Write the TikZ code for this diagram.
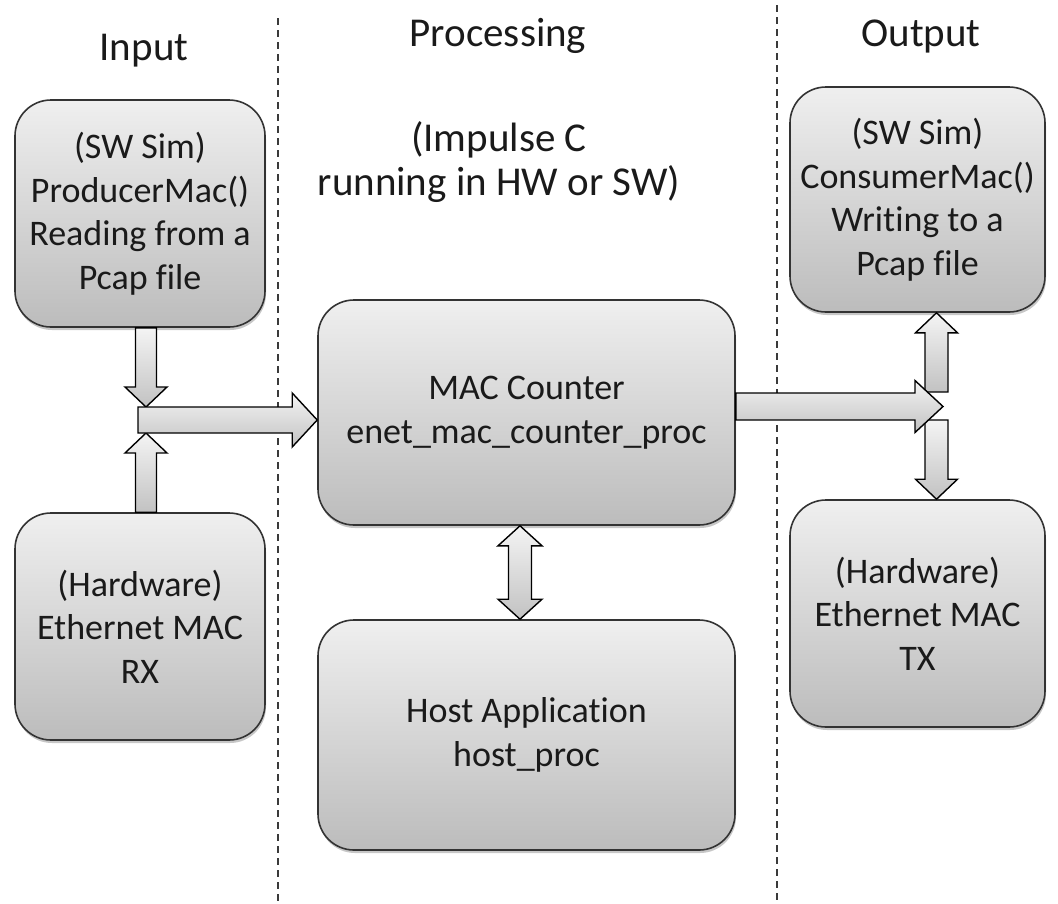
\documentclass[tikz,border=0pt]{standalone}
\usepackage{fontspec}
\setmainfont{Carlito}[Ligatures={NoCommon}]
\usetikzlibrary{calc,shadows}

\definecolor{boxtop}{HTML}{EFEFEF}
\definecolor{boxbot}{HTML}{BCBCBC}
\definecolor{arrtop}{HTML}{F4F4F4}
\definecolor{arrbot}{HTML}{C2C2C2}
\definecolor{edge}{HTML}{333333}
\definecolor{ink}{HTML}{1A1A1A}
\definecolor{divcol}{HTML}{3A3A3A}

% Block arrow from #1 to #2: shaft half-width #3, head half-width #4, head length #5
\newcommand\blockarrow[5]{%
  \coordinate (ba-h) at ($#2!#5!#1$);
  \path[arrowbody]
    ($#1!#3!90:#2$) -- ($(ba-h)!#3!-90:#1$) -- ($(ba-h)!#4!-90:#1$) -- #2
    -- ($(ba-h)!#4!90:#1$) -- ($(ba-h)!#3!90:#1$) -- ($#1!#3!-90:#2$) -- cycle;
}
% Two-headed block arrow between #1 and #2
\newcommand\dblockarrow[5]{%
  \coordinate (da-a) at ($#1!#5!#2$);
  \coordinate (da-b) at ($#2!#5!#1$);
  \path[arrowbody]
    #1 -- ($(da-a)!#4!90:#2$) -- ($(da-a)!#3!90:#2$) -- ($(da-b)!#3!-90:#1$)
    -- ($(da-b)!#4!-90:#1$) -- #2 -- ($(da-b)!#4!90:#1$) -- ($(da-b)!#3!90:#1$)
    -- ($(da-a)!#3!-90:#2$) -- ($(da-a)!#4!-90:#2$) -- cycle;
}

\begin{document}
\begin{tikzpicture}[x=1pt,y=-1pt,
  box/.style={draw=edge, line width=1.6pt, rounded corners=36pt,
    top color=boxtop, bottom color=boxbot, align=center, text=ink,
    font=\fontsize{36}{43.5}\selectfont, inner sep=0pt,
    drop shadow={shadow xshift=1pt, shadow yshift=-3pt, opacity=0.22, fill=black}},
  heading/.style={text=ink, font=\fontsize{41}{48}\selectfont, inner sep=0pt, anchor=base},
  note/.style={text=ink, font=\fontsize{41}{44}\selectfont, align=center, inner sep=0pt},
  arrowbody/.style={draw=black, line width=1.4pt, line join=miter,
    top color=arrtop, bottom color=arrbot},
  divider/.style={draw=divcol, line width=2pt, dash pattern=on 7pt off 5pt}]

\useasboundingbox (0,0) rectangle (1058,903);

% column dividers
\coordinate (d1a) at (278,18);
\coordinate (d1b) at (278,903);
\coordinate (d2a) at (777,5);
\coordinate (d2b) at (777,903);
\path[divider] (d1a) -- (d1b);
\path[divider] (d2a) -- (d2b);

% column headings
\node[heading] (hin)  at (144,60) {Input};
\node[heading] (hpro) at (498,46) {Processing};
\node[heading] (hout) at (921,46) {Output};
\node[note] (impl) at (499,162) {(Impulse C\\running in HW or SW)};

% blocks
\node[box, minimum width=250pt, minimum height=227pt] (prod) at (140,213.5)
  {(SW Sim)\\ProducerMac()\\Reading from a\\Pcap file};
\node[box, minimum width=250pt, minimum height=227pt] (rx) at (140,626.5)
  {(Hardware)\\Ethernet MAC\\RX};
\node[box, minimum width=417pt, minimum height=225pt] (mac) at (526.5,412.5)
  {MAC Counter\\enet\_mac\_counter\_proc};
\node[box, minimum width=417pt, minimum height=230pt] (host) at (526.5,735)
  {Host Application\\host\_proc};
\node[box, minimum width=255pt, minimum height=225pt] (cons) at (917.5,199.5)
  {(SW Sim)\\ConsumerMac()\\Writing to a\\Pcap file};
\node[box, minimum width=255pt, minimum height=227pt] (tx) at (917.5,613.5)
  {(Hardware)\\Ethernet MAC\\TX};

% junction points of the merging / splitting arrows
\coordinate (inj)  at (146,420);
\coordinate (inl)  at (138,420);
\coordinate (outj) at (936.5,406.5);

% input side: two sources merge into one stream
\blockarrow{(prod.south -| inj)}{($(inj)+(0,-13)$)}{10.5pt}{21pt}{20pt}
\blockarrow{(rx.north -| inj)}{($(inj)+(0,13)$)}{10.5pt}{21pt}{20pt}
\blockarrow{(inl)}{(mac.west |- inl)}{13pt}{27pt}{25pt}

% output side: one stream split to two sinks
\blockarrow{($(outj)+(0,-14.5)$)}{(cons.south -| outj)}{11.5pt}{21pt}{20pt}
\blockarrow{($(outj)+(0,13.5)$)}{(tx.north -| outj)}{11.5pt}{21pt}{20pt}
\blockarrow{(mac.east |- outj)}{($(outj)+(6.5,0)$)}{13.5pt}{26pt}{28pt}

% counter <-> host
\coordinate (mh) at (520,0);
\dblockarrow{(mac.south -| mh)}{(host.north -| mh)}{11.5pt}{22pt}{20pt}

\end{tikzpicture}
\end{document}
